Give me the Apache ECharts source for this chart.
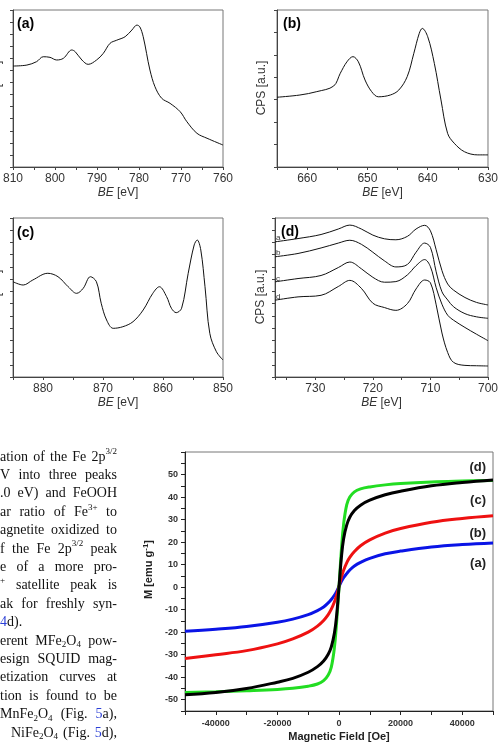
<!DOCTYPE html>
<html>
<head>
<meta charset="utf-8">
<script src="https://cdn.jsdelivr.net/npm/echarts@6/dist/echarts.min.js"></script>
<style>
html, body { margin: 0; padding: 0; background: #fff; }
#main { width: 501px; height: 743px; }
</style>
</head>
<body>
<div id="main"></div>
<script>
// (a) BE axis 810..760
const beA = [810, 806.7, 804.4, 802.8, 801.2, 799.6, 798, 796, 795.2, 793.6, 792.1, 790.1, 788.5, 786.9, 785.3, 783.3, 781.7, 780.5, 779.8, 779, 778.2, 777.4, 776.2, 774.6, 772.6, 770.2, 768.6, 766.2, 763.8, 760]
const cpsA = [8.36, 8.44, 8.72, 9.13, 9.08, 8.86, 9.0, 9.69, 9.55, 8.86, 8.5, 8.86, 9.41, 10.24, 10.5, 10.79, 11.34, 11.75, 11.6, 10.79, 9.41, 8.03, 6.65, 5.69, 5.27, 4.58, 3.75, 2.79, 2.38, 1.82]

// (b) 665..630
const beB = [665, 661.2, 658.4, 655.6, 654.5, 653.4, 652.4, 651.5, 650.4, 649.3, 648.2, 646.2, 644.8, 643.4, 642.3, 641.4, 640.9, 640, 638.9, 637.8, 636.7, 635.6, 633.9, 631.7, 630]
const cpsB = [3.11, 3.21, 3.36, 3.61, 4.18, 4.69, 4.92, 4.69, 3.88, 3.36, 3.13, 3.21, 3.43, 4.03, 5.07, 5.96, 6.18, 5.81, 4.62, 2.99, 1.5, 1.06, 0.68, 0.54, 0.54]

// (c) 885..850
const beC = [885, 883.3, 881.7, 879.2, 877.5, 875.8, 874.4, 873.3, 872.1, 871.1, 870.3, 869.4, 868.3, 866.7, 865, 863.3, 861.7, 860.6, 859.4, 858.6, 857.8, 856.9, 855.8, 854.8, 854.3, 853.7, 853, 852.2, 851.1, 850]
const cpsC = [7.79, 7.52, 7.93, 8.48, 8.2, 7.38, 6.84, 7.25, 8.2, 7.79, 6.03, 4.66, 3.98, 4.11, 4.52, 5.48, 6.84, 7.38, 6.57, 5.62, 5.26, 5.62, 8.48, 10.8, 11.2, 10.38, 7.38, 3.57, 2.07, 1.39]

// (d) four samples a-d
const beD = [737, 733, 729, 726, 724, 722, 720, 718, 716, 714, 712.5, 711, 710, 709, 708, 707, 706, 704, 702, 700]
const cpsDa = [11.05, 11.32, 11.65, 12.1, 12.42, 12.1, 11.6, 11.3, 11.22, 11.5, 12.1, 12.4, 11.95, 10.4, 8.7, 7.6, 7.11, 6.5, 6.1, 5.89]
const cpsDb = [9.83, 10.1, 10.55, 10.95, 11.18, 10.85, 10.2, 9.5, 9.0, 9.2, 10.2, 10.95, 10.6, 8.6, 6.97, 6.3, 5.75, 5.18, 4.92, 4.8]
const cpsDc = [7.78, 8.05, 8.3, 8.95, 9.4, 8.85, 8.15, 7.75, 7.8, 8.35, 9.1, 9.6, 9.02, 7.3, 5.95, 5.05, 4.65, 4.05, 3.5, 2.97]
const cpsDd = [6.28, 6.55, 6.68, 7.4, 7.9, 7.25, 6.03, 5.68, 5.45, 6.0, 7.2, 7.93, 7.7, 5.9, 3.6, 2.0, 1.2, 0.95, 0.92, 0.9]
const curveNamesD = ['a', 'b', 'c', 'd']

// magnetization curves
const field = [-50000, -40000, -30000, -20000, -15000, -10000, -7000, -5000, -3500, -2500, -1500, -800, 0, 800, 1500, 2500, 3500, 5000, 7000, 10000, 15000, 20000, 30000, 40000, 50000]
const magA = [-19.6, -18.7, -17.5, -15.6, -14.2, -12.2, -10.4, -8.8, -7.0, -5.5, -3.6, -2.0, 0.3, 2.6, 4.2, 6.0, 7.6, 9.4, 11.0, 12.8, 14.8, 16.0, 17.8, 18.9, 19.6]
const magB = [-31.7, -30.0, -28.2, -25.2, -23.0, -20.0, -17.3, -14.8, -12.2, -9.8, -6.6, -3.8, 0.3, 4.5, 7.5, 10.8, 13.2, 15.8, 18.4, 21.0, 24.0, 26.0, 28.8, 30.5, 31.7]
const magC = [-47.8, -46.8, -45.0, -42.2, -40.5, -37.8, -35.3, -32.8, -29.8, -26.5, -20.5, -13.0, 0, 13.5, 21.5, 27.5, 31.0, 34.0, 36.4, 38.6, 41.0, 42.6, 45.0, 46.5, 47.6]
const magD = [-46.8, -46.5, -46.0, -45.4, -44.9, -44.0, -43.0, -41.5, -39.0, -35.5, -27.0, -16.0, 0, 17.0, 28.0, 36.5, 40.0, 42.3, 43.6, 44.5, 45.4, 46.0, 46.7, 47.1, 47.4]
const magLabels = ['(d)', '(c)', '(b)', '(a)']

// text column left of figure 5 (cropped page)
const paraLines = [
	'ation of the Fe 2p^{3/2}',
	'V into three peaks',
	'.0 eV) and FeOOH',
	'ar ratio of Fe^{3+} to',
	'agnetite oxidized to',
	'f the Fe 2p^{3/2} peak',
	'e of a more pro-',
	'^{+} satellite peak is',
	'ak for freshly syn-',
	'[4]d).',
	'erent MFe_{2}O_{4} pow-',
	'esign SQUID mag-',
	'etization curves at',
	'tion is found to be',
	'MnFe_{2}O_{4} (Fig. [5]a),',
	' NiFe_{2}O_{4} (Fig. [5]d),'
]
const raggedLines = [9]

const chart = echarts.init(document.getElementById('main'))

const axisGrey = '#444'
const sans = 'Liberation Sans'

function xpsX(gi, min, max) {
	return {
		gridIndex: gi,
		type: 'value',
		inverse: true,
		min: min,
		max: max,
		interval: 5,
		axisLine: { onZero: false, lineStyle: { color: axisGrey } },
		axisTick: { length: 3, lineStyle: { color: axisGrey } },
		splitLine: { show: false },
		axisLabel: {
			fontSize: 12,
			color: '#333',
			fontFamily: sans,
			margin: 6,
			formatter: function (v) { return v % 10 === 0 ? String(v) : '' }
		},
		name: '{i|BE} [eV]',
		nameLocation: 'middle',
		nameGap: 20,
		nameTextStyle: {
			fontSize: 12, color: '#333', fontFamily: sans,
			rich: { i: { fontStyle: 'italic', fontSize: 12, color: '#333', fontFamily: sans } }
		}
	}
}

function xpsY(gi, max) {
	return {
		gridIndex: gi,
		type: 'value',
		min: 0,
		max: max,
		interval: 1,
		axisLine: { show: true, onZero: false, lineStyle: { color: axisGrey } },
		axisTick: { show: true, length: 3, lineStyle: { color: axisGrey } },
		axisLabel: { show: false },
		splitLine: { show: false }
	}
}

function line(idx, xs, ys, color, width, z, smooth) {
	return {
		type: 'line',
		xAxisIndex: idx,
		yAxisIndex: idx,
		data: xs.map(function (x, i) { return [x, ys[i]] }),
		symbol: 'none',
		smooth: smooth || 0.35,
		silent: true,
		z: z || 2,
		lineStyle: { color: color, width: width },
		itemStyle: { color: color }
	}
}

// --- paragraph, laid out word by word and justified like the page
const measureCtx = document.createElement('canvas').getContext('2d')
function parseWord(word) {
	const out = []
	const re = /\^\{([^}]*)\}|_\{([^}]*)\}|\[([^\]]*)\]|([^\^_\[]+)/g
	let m
	while ((m = re.exec(word))) {
		if (m[1] != null) out.push([m[1], 'sup'])
		else if (m[2] != null) out.push([m[2], 'sub'])
		else if (m[3] != null) out.push([m[3], 'blue'])
		else out.push([m[4], 'n'])
	}
	return out
}
function pieceFont(p) {
	return (p[1] === 'sup' || p[1] === 'sub' ? 9 : 14) + 'px "Liberation Serif"'
}
function pieceWidth(p) {
	measureCtx.font = pieceFont(p)
	return measureCtx.measureText(p[0]).width
}
function paragraph() {
	const els = []
	const top = 457, step = 18.4, right = 117
	paraLines.forEach(function (ln, li) {
		const x0 = ln.charAt(0) === ' ' ? 11 : 0
		const words = ln.trim().split(' ').map(parseWord)
		const widths = words.map(function (w) { return w.reduce(function (s, p) { return s + pieceWidth(p) }, 0) })
		const total = widths.reduce(function (a, b) { return a + b }, 0)
		const gap = raggedLines.indexOf(li) >= 0 || words.length < 2 ? 3.5 : (right - x0 - total) / (words.length - 1)
		let x = x0
		const y = top + li * step
		words.forEach(function (w) {
			w.forEach(function (p) {
				const dy = p[1] === 'sup' ? -5 : p[1] === 'sub' ? 4 : 0
				els.push({
					type: 'text', x: x, y: y + dy, silent: true,
					style: {
						text: p[0], font: pieceFont(p),
						fill: p[1] === 'blue' ? '#2b3fd6' : '#111',
						align: 'left', verticalAlign: 'middle',
						textAlign: 'left', textVerticalAlign: 'middle'
					}
				})
				x += pieceWidth(p)
			})
			x += gap
		})
	})
	return els
}

function label(text, x, y, font, align, fill, rotation) {
	return {
		type: 'text', x: x, y: y, silent: true, rotation: rotation || 0,
		style: {
			text: text, font: font, fill: fill || '#000',
			align: align || 'left', verticalAlign: 'middle',
			textAlign: align || 'left', textVerticalAlign: 'middle'
		}
	}
}

const panelFont = 'bold 14px "Liberation Sans"'
const cpsFont = '12px "Liberation Sans"'
const graphics = [
	label('(a)', 17, 24, panelFont),
	label('(b)', 283, 24, panelFont),
	label('(c)', 17, 233, panelFont),
	label('(d)', 281, 232, panelFont),
	// y titles; the ones of (a) and (c) fall off the cropped page
	label('CPS [a.u.]', -3, 88, cpsFont, 'center', '#333', Math.PI / 2),
	label('CPS [a.u.]', 262, 88, cpsFont, 'center', '#333', Math.PI / 2),
	label('CPS [a.u.]', -3, 297, cpsFont, 'center', '#333', Math.PI / 2),
	label('CPS [a.u.]', 261, 297, cpsFont, 'center', '#333', Math.PI / 2)
]
const dLabelY = [238, 253, 279, 297]
curveNamesD.forEach(function (n, i) {
	graphics.push(label(n, 276, dLabelY[i], '8px "Liberation Sans"', 'left', '#333'))
})
const magLabelY = [467, 500, 533, 563]
magLabels.forEach(function (n, i) {
	graphics.push(label(n, 486, magLabelY[i], 'bold 13px "Liberation Sans"', 'right', '#222'))
})

const gridBox = { show: true, borderColor: '#777', borderWidth: 1, backgroundColor: 'transparent' }

const option = {
	animation: false,
	backgroundColor: '#fff',
	grid: [
		Object.assign({ left: 13, top: 10, width: 210, height: 157 }, gridBox),
		Object.assign({ left: 277, top: 10, width: 211, height: 157 }, gridBox),
		Object.assign({ left: 13, top: 218, width: 210, height: 159 }, gridBox),
		Object.assign({ left: 275, top: 218, width: 213, height: 159 }, gridBox),
		Object.assign({ left: 185, top: 452, width: 308, height: 264 }, gridBox)
	],
	xAxis: [
		xpsX(0, 760, 810),
		xpsX(1, 630, 665),
		xpsX(2, 850, 885),
		xpsX(3, 700, 737),
		{
			gridIndex: 4,
			type: 'value',
			min: -50000,
			max: 50000,
			interval: 10000,
			axisLine: { onZero: false, lineStyle: { color: '#222' } },
			axisTick: { length: 4, lineStyle: { color: '#222' } },
			splitLine: { show: false },
			axisLabel: {
				fontSize: 9, fontWeight: 'bold', color: '#333', fontFamily: sans, margin: 8,
				formatter: function (v) { return v % 20000 === 0 ? String(v) : '' }
			},
			name: 'Magnetic Field [Oe]',
			nameLocation: 'middle',
			nameGap: 20,
			nameTextStyle: { fontSize: 11, fontWeight: 'bold', color: '#222', fontFamily: sans }
		}
	],
	yAxis: [
		xpsY(0, 13),
		xpsY(1, 7),
		xpsY(2, 13),
		xpsY(3, 13),
		{
			gridIndex: 4,
			type: 'value',
			min: -55,
			max: 60,
			interval: 5,
			axisLine: { onZero: false, lineStyle: { color: '#222' } },
			axisTick: { length: 4, lineStyle: { color: '#222' } },
			splitLine: { show: false },
			axisLabel: {
				fontSize: 9, fontWeight: 'bold', color: '#333', fontFamily: sans, margin: 7,
				formatter: function (v) { return v % 10 === 0 && v <= 50 ? String(v) : '' }
			},
			name: '{b|M [emu g}{s|-1}{b|]}',
			nameLocation: 'middle',
			nameGap: 24,
			nameTextStyle: {
				padding: [0, 0, 0, 24],
				rich: {
					b: { fontSize: 11, fontWeight: 'bold', color: '#222', fontFamily: sans, lineHeight: 14 },
					s: { fontSize: 8, fontWeight: 'bold', color: '#222', fontFamily: sans, lineHeight: 9, verticalAlign: 'top' }
				}
			}
		}
	],
	series: [
		line(0, beA, cpsA, '#111', 1),
		line(1, beB, cpsB, '#111', 1),
		line(2, beC, cpsC, '#111', 1),
		line(3, beD, cpsDa, '#111', 1),
		line(3, beD, cpsDb, '#111', 1),
		line(3, beD, cpsDc, '#111', 1),
		line(3, beD, cpsDd, '#111', 1),
		line(4, field, magA, '#0a14e6', 3, 3, 0.4),
		line(4, field, magB, '#ee1111', 3, 4, 0.4),
		line(4, field, magD, '#22dd22', 3, 5, 0.4),
		line(4, field, magC, '#000000', 3, 6, 0.4)
	],
	graphic: graphics.concat(paragraph())
}

chart.setOption(option)
</script>
</body>
</html>
